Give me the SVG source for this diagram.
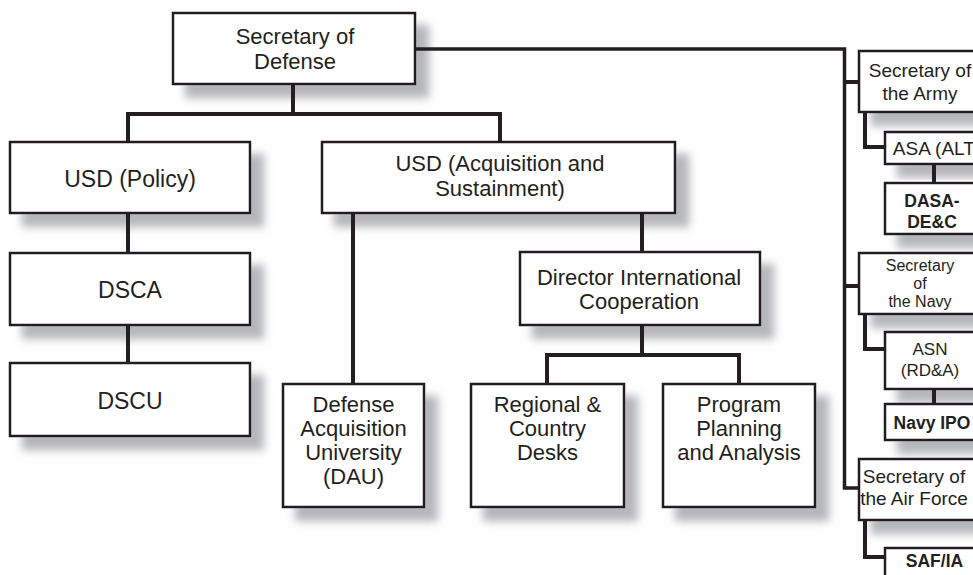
<svg xmlns="http://www.w3.org/2000/svg" width="973" height="575" viewBox="0 0 973 575">
<defs>
<filter id="sh" x="-20%" y="-30%" width="160%" height="180%">
<feOffset in="SourceAlpha" dx="13" dy="13" result="o"/>
<feGaussianBlur in="o" stdDeviation="4" result="b"/>
<feFlood flood-color="#a3a5a8" flood-opacity="0.8"/>
<feComposite in2="b" operator="in" result="s"/>
<feMerge><feMergeNode in="s"/><feMergeNode in="SourceGraphic"/></feMerge>
</filter>
<style>
.box{fill:#fff;stroke:#231f20;stroke-width:2.5;filter:url(#sh)}
text{font-family:"Liberation Sans",Arial,Helvetica,sans-serif;fill:#231f20;text-anchor:middle}
.t23{font-size:23px}
.t22{font-size:22px}
.t19{font-size:19px}
.t17{font-size:17px}
.t16{font-size:16px}
.b{font-weight:bold;font-size:17.5px}
.c{fill:none;stroke:#231f20;stroke-width:4;stroke-linejoin:miter}
</style>
</defs>
<rect width="973" height="575" fill="#fff"/>
<g id="secdef"><rect class="box" x="173" y="13" width="242" height="71"/><text class="t22" x="295" y="44">Secretary of</text><text class="t22" x="295" y="68.5">Defense</text></g>
<g id="usd-policy"><rect class="box" x="10" y="142" width="240" height="71"/><text class="t23" x="130" y="186.5">USD (Policy)</text></g>
<g id="dsca"><rect class="box" x="10" y="253" width="240" height="72"/><text class="t23" x="130" y="297.5">DSCA</text></g>
<g id="dscu"><rect class="box" x="10" y="363" width="240" height="73"/><text class="t23" x="130" y="409">DSCU</text></g>
<g id="usd-as"><rect class="box" x="322" y="142" width="353" height="71"/><text class="t22" x="500" y="171">USD (Acquisition and</text><text class="t22" x="500" y="195.5">Sustainment)</text></g>
<g id="director"><rect class="box" x="520" y="252" width="240" height="73"/><text class="t22" x="639" y="284.5">Director International</text><text class="t22" x="639" y="309">Cooperation</text></g>
<g id="dau"><rect class="box" x="283" y="384" width="141" height="123"/><text class="t22" x="353.5" y="412">Defense</text><text class="t22" x="353.5" y="436">Acquisition</text><text class="t22" x="353.5" y="460">University</text><text class="t22" x="353.5" y="484">(DAU)</text></g>
<g id="regional"><rect class="box" x="471" y="384" width="153" height="123"/><text class="t22" x="547.5" y="412">Regional &amp;</text><text class="t22" x="547.5" y="436">Country</text><text class="t22" x="547.5" y="460">Desks</text></g>
<g id="program"><rect class="box" x="663" y="384" width="152" height="123"/><text class="t22" x="739" y="412">Program</text><text class="t22" x="739" y="436">Planning</text><text class="t22" x="739" y="460">and Analysis</text></g>
<g id="army"><rect class="box" x="859" y="51" width="126" height="61"/><text class="t19" x="920" y="77">Secretary of</text><text class="t19" x="920" y="100">the Army</text></g>
<g id="asa-alt"><rect class="box" x="885" y="132" width="110" height="32"/><text class="t19" x="937" y="154.5">ASA (ALT)</text></g>
<g id="dasa"><rect class="box" x="885" y="183" width="100" height="51"/><text class="b" x="932" y="207">DASA-</text><text class="b" x="932" y="227.5">DE&amp;C</text></g>
<g id="navy"><rect class="box" x="859" y="253" width="126" height="61"/><text class="t16" x="920" y="271">Secretary</text><text class="t16" x="920" y="289">of</text><text class="t16" x="920" y="307">the Navy</text></g>
<g id="asn"><rect class="box" x="885" y="332" width="110" height="57"/><text class="t17" x="930" y="355">ASN</text><text class="t17" x="930" y="376">(RD&amp;A)</text></g>
<g id="navy-ipo"><rect class="box" x="885" y="404" width="110" height="36"/><text class="b" x="932" y="428.5">Navy IPO</text></g>
<g id="airforce"><rect class="box" x="859" y="459" width="126" height="61"/><text class="t19" x="914" y="483">Secretary of</text><text class="t19" x="914" y="504.5">the Air Force</text></g>
<g id="saf-ia"><rect class="box" x="885" y="548" width="110" height="40"/><text class="b" x="934.5" y="566.5">SAF/IA</text></g>
<g id="connectors">
<path class="c" d="M293,84V114"/>
<path class="c" d="M128,142V114H500V142"/>
<path class="c" style="stroke-width:3.5" d="M415,49H844.5V488H859"/>
<path class="c" d="M844.5,82H859M844.5,286H859"/>
<path class="c" d="M128,213V253M128,325V363"/>
<path class="c" d="M353,213V384"/>
<path class="c" d="M642,213V252M642,325V355"/>
<path class="c" d="M547,384V355H739V384"/>
<path class="c" d="M865,112V147H885"/>
<path class="c" d="M934,164V183"/>
<path class="c" d="M865,314V349H885"/>
<path class="c" d="M934,389V404"/>
<path class="c" d="M865,520V557H885"/>
</g>
</svg>
